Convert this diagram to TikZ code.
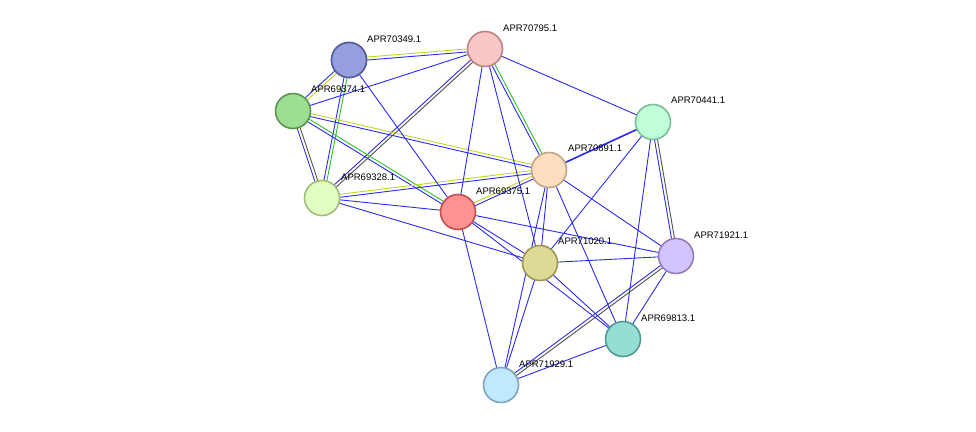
\documentclass[tikz,border=0pt]{standalone}
\usepackage{fontspec}
\setmainfont{Liberation Sans}
\usetikzlibrary{calc}
\definecolor{eb}{HTML}{2A2AF0}
\definecolor{yg}{HTML}{C2D62A}
\definecolor{gr}{HTML}{2EC02E}
\definecolor{dg}{HTML}{505050}
\tikzset{
 nd/.style={circle,draw,line width=1.6pt,minimum size=35pt,inner sep=0pt},
 lb/.style={anchor=west,font=\fontsize{9.5pt}{10pt}\selectfont,inner sep=0pt},
 ed/.style={eb,line width=0.9pt}
}
\newcommand{\pe}[3]{\draw[#3,line width=0.9pt] ($(#1)!1.5pt!90:(#2)$) -- ($(#2)!1.5pt!-90:(#1)$);}
\newcommand{\me}[3]{\draw[eb,line width=0.9pt] ($(#1)!1.5pt!-90:(#2)$) -- ($(#2)!1.5pt!90:(#1)$);\pe{#1}{#2}{#3}}
\begin{document}
\begin{tikzpicture}[x=1pt,y=-1pt]
\useasboundingbox (0,0) rectangle (976,431);
\coordinate (a) at (349,60);
\coordinate (b) at (485,49);
\coordinate (c) at (293,111);
\coordinate (d) at (653,122);
\coordinate (e) at (549,170);
\coordinate (f) at (322,198);
\coordinate (g) at (458,212);
\coordinate (h) at (540,263);
\coordinate (i) at (676,256);
\coordinate (j) at (623,339);
\coordinate (k) at (501,385);
% multi edges
\me{a}{b}{yg}\me{a}{c}{yg}\me{a}{f}{gr}
\me{b}{f}{dg}\me{b}{e}{gr}
\me{c}{f}{dg}\me{c}{e}{yg}\me{c}{g}{gr}
\me{f}{e}{yg}\me{g}{e}{yg}
\me{d}{i}{dg}\me{i}{k}{dg}
% single edges
\foreach \u/\v in {a/g,b/c,b/g,b/h,b/d,f/g,f/h,g/h,g/i,g/j,g/k,e/h,e/k,e/j,e/i,d/h,d/j,h/i,h/j,h/k,i/j,j/k}
  \draw[ed] (\u) -- (\v);
\draw[eb,line width=1.6pt] (e) -- (d);
% nodes
\node[nd,draw=blue!40!black!60,fill=blue!40!white!85!black!15] (na) at (a) {};
\node[nd,draw={rgb,255:red,190;green,130;blue,130},fill={rgb,255:red,248;green,200;blue,200}] (nb) at (b) {};
\node[nd,draw={rgb,255:red,90;green,150;blue,80},fill={rgb,255:red,158;green,222;blue,148}] (nc) at (c) {};
\node[nd,draw={rgb,255:red,120;green,190;blue,150},fill={rgb,255:red,192;green,255;blue,218}] (nd) at (d) {};
\node[nd,draw={rgb,255:red,195;green,165;blue,130},fill={rgb,255:red,255;green,222;blue,192}] (ne) at (e) {};
\node[nd,draw={rgb,255:red,160;green,190;blue,120},fill={rgb,255:red,225;green,255;blue,195}] (nf) at (f) {};
\node[nd,draw={rgb,255:red,190;green,80;blue,80},fill={rgb,255:red,255;green,145;blue,145}] (ng) at (g) {};
\node[nd,draw={rgb,255:red,160;green,150;blue,80},fill={rgb,255:red,220;green,218;blue,150}] (nh) at (h) {};
\node[nd,draw={rgb,255:red,150;green,125;blue,190},fill={rgb,255:red,210;green,195;blue,252}] (ni) at (i) {};
\node[nd,draw={rgb,255:red,80;green,155;blue,145},fill={rgb,255:red,150;green,222;blue,212}] (nj) at (j) {};
\node[nd,draw={rgb,255:red,125;green,165;blue,195},fill={rgb,255:red,192;green,232;blue,255}] (nk) at (k) {};
\node[draw={rgb,255:red,85;green,95;blue,160},line width=1.6pt,circle,minimum size=35pt,fill={rgb,255:red,150;green,160;blue,222}] at (a) {};
% labels
\node[lb] (la) at (367,39) {APR70349.1};
\node[lb] (lb) at (503,28) {APR70795.1};
\node[lb] (lc) at (311,89) {APR69374.1};
\node[lb] (ld) at (671,100) {APR70441.1};
\node[lb] (le) at (568,148) {APR70891.1};
\node[lb] (lf) at (341,177) {APR69328.1};
\node[lb] (lg) at (476,191) {APR69375.1};
\node[lb] (lh) at (558,241) {APR71020.1};
\node[lb] (li) at (694,235) {APR71921.1};
\node[lb] (lj) at (641,318) {APR69813.1};
\node[lb] (lk) at (519,364) {APR71929.1};
\end{tikzpicture}
\end{document}
